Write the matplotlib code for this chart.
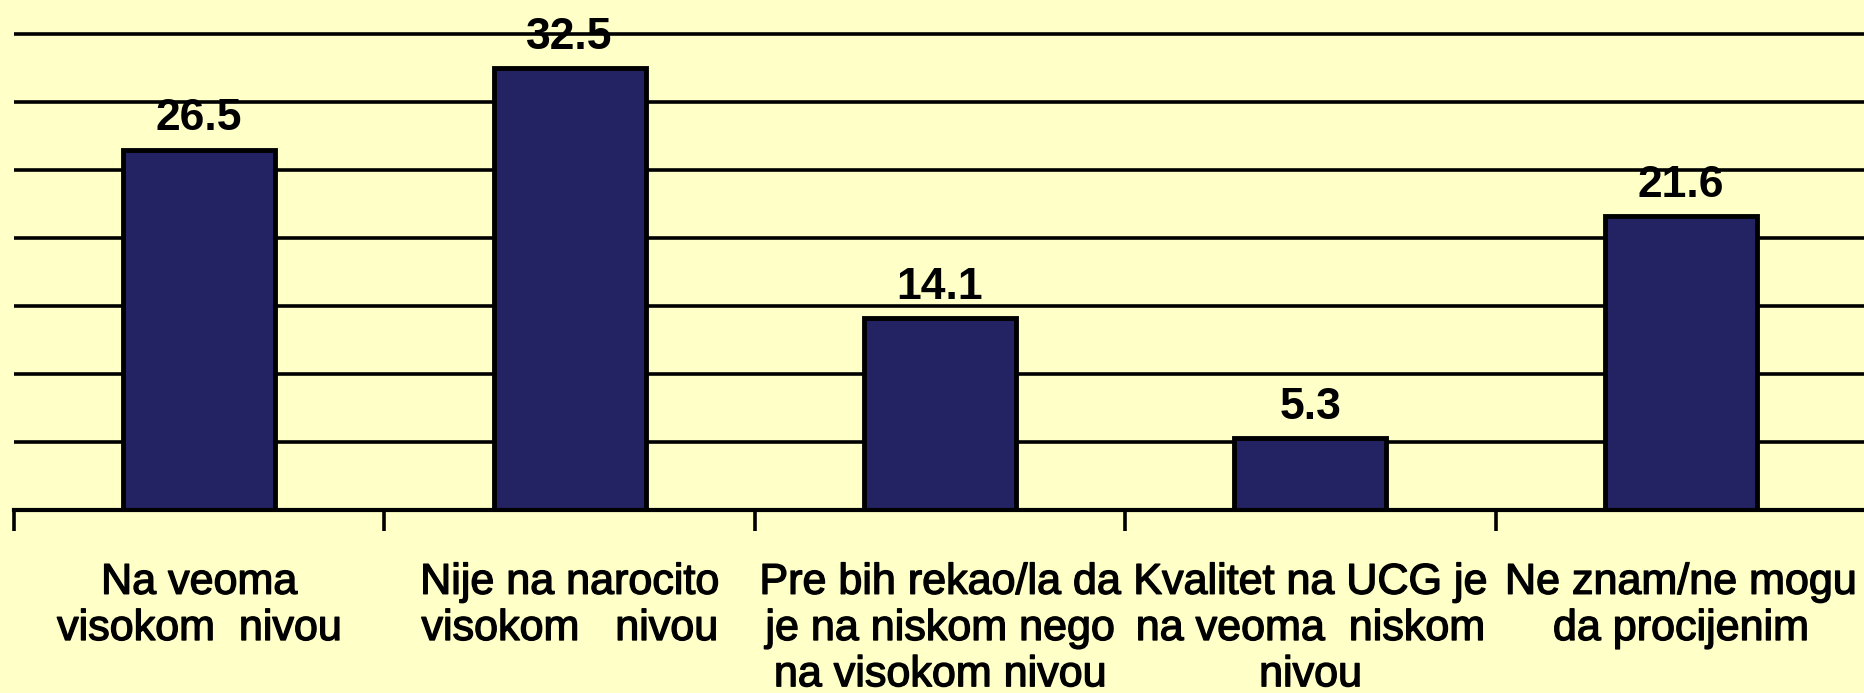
import numpy as np
import matplotlib
matplotlib.use("Agg")
import matplotlib.pyplot as plt
import matplotlib.patheffects as pe

# answers and percentages
categories = [
    "Na veoma\nvisokom  nivou",
    "Nije na narocito\nvisokom   nivou",
    "Pre bih rekao/la da\nje na niskom nego\nna visokom nivou",
    "Kvalitet na UCG je\nna veoma  niskom\nnivou",
    "Ne znam/ne mogu\nda procijenim",
]
values = [26.5, 32.5, 14.1, 5.3, 21.6]
grid_ticks = [5, 10, 15, 20, 25, 30, 35]

bg = "#FFFFC8"
bar_color = "#232262"

plt.rcParams["font.family"] = ["Liberation Sans", "DejaVu Sans"]
heavy = [pe.withStroke(linewidth=1.0, foreground="black")]

fig = plt.figure(figsize=(18.64, 6.93), dpi=100)
fig.patch.set_facecolor(bg)
ax = fig.add_axes([14 / 1864, 183 / 693, 1852 / 1864, 478.7 / 693])
ax.set_facecolor(bg)

x = np.arange(len(values))
ax.bar(x, values, width=0.41, color=bar_color, edgecolor="black", linewidth=3.5, zorder=3)

# value labels
for xi, v in zip(x, values):
    ax.annotate("{:.1f}".format(v), xy=(xi, v), xytext=(0, 7.5), textcoords="offset points",
                ha="center", va="bottom", fontsize=32, fontweight="bold", zorder=4)

ax.set_xlim(-0.5, len(values) - 0.5)
ax.set_ylim(0, 35.2)

# horizontal grid
ax.set_yticks(grid_ticks)
ax.yaxis.grid(True, color="black", linewidth=2.6, zorder=0)
ax.tick_params(axis="y", left=False, labelleft=False)

# category labels with separator ticks
ax.set_xticks(x)
ax.set_xticklabels(categories, fontsize=31, linespacing=1.2, va="top")
for t in ax.get_xticklabels():
    t.set_path_effects(heavy)
ax.tick_params(axis="x", which="major", length=0, pad=38)
ax.set_xticks(np.arange(-0.5, len(values)), minor=True)
ax.tick_params(axis="x", which="minor", length=15, width=2.6, direction="out")

for s in ["left", "right", "top"]:
    ax.spines[s].set_visible(False)
ax.spines["bottom"].set_linewidth(3)
ax.spines["bottom"].set_zorder(5)

fig.savefig("out.png", dpi=100, facecolor=bg)
